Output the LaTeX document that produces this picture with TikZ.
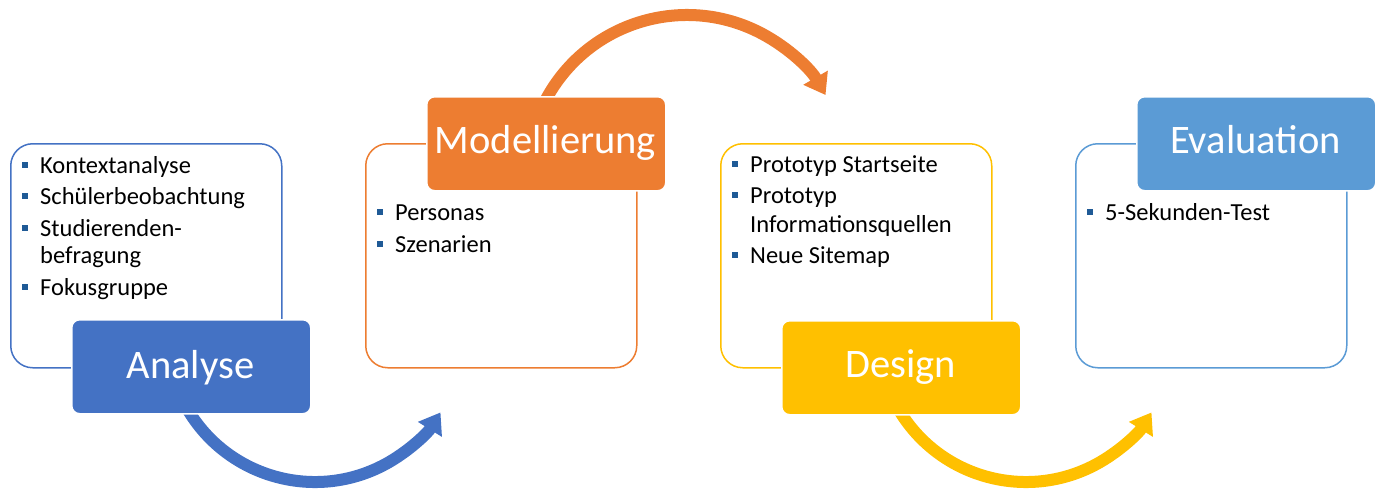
\documentclass[tikz,border=0pt]{standalone}
\usepackage{fontspec}
\setmainfont{Carlito}
\usetikzlibrary{arrows.meta}
\definecolor{cBlue}{HTML}{4472C4}
\definecolor{cOrange}{HTML}{ED7D31}
\definecolor{cYellow}{HTML}{FFC000}
\definecolor{cSky}{HTML}{5B9BD5}
\definecolor{cBullet}{RGB}{31,90,150}
\begin{document}
\begin{tikzpicture}[x=1pt,y=1pt,
  outlinebox/.style={draw=#1, line width=1.5pt, rounded corners=22pt, fill=white,
    minimum width=271pt, minimum height=224pt, anchor=north west, inner sep=0pt},
  titlebox/.style={fill=#1, draw=white, line width=1.5pt, rounded corners=8pt,
    minimum width=239pt, minimum height=94pt, anchor=north west, inner sep=0pt},
  titletext/.style={text=white, font=\fontsize{40.5}{42}\selectfont, anchor=base, inner sep=0pt},
  item/.style={font=\fontsize{24.5}{28}\selectfont, anchor=base west, inner sep=0pt},
  bulletsq/.style={fill=cBullet, minimum size=6pt, inner sep=0pt},
  flow/.style={line width=12pt, draw=#1, -{Triangle[length=20pt,width=27pt]}}
]
\useasboundingbox (0,0) rectangle (1381,-490);

% curved arrows between the phases (drawn first, so they start beneath the boxes)
\coordinate (a1s) at (186.8,-408.0);
\coordinate (a2s) at (545.7,-99.9);
\coordinate (a3s) at (897.8,-408.0);
\draw[flow=cBlue]   (a1s) arc[start angle=210, end angle=328, radius=148];
\draw[flow=cOrange] (a2s) arc[start angle=152, end angle=30,  radius=160];
\draw[flow=cYellow] (a3s) arc[start angle=210, end angle=328, radius=148];

% content frames
\node[outlinebox=cBlue]   (f1) at (10,-143)   {};
\node[outlinebox=cOrange] (f2) at (365,-143)  {};
\node[outlinebox=cYellow] (f3) at (720,-143)  {};
\node[outlinebox=cSky]    (f4) at (1075,-143) {};

% phase title boxes
\node[titlebox=cBlue]   (t1) at (71,-319)  {};
\node[titlebox=cOrange] (t2) at (426,-96)  {};
\node[titlebox=cYellow] (t3) at (781,-320) {};
\node[titlebox=cSky]    (t4) at (1136,-96) {};

\node[titletext] (t1txt) at (190.5,-378) {Analyse};
\node[titletext] (t2txt) at (545.5,-153) {Modellierung};
\node[titletext] (t3txt) at (900.5,-377) {Design};
\node[titletext] (t4txt) at (1255.5,-153) {Evaluation};

% Analyse items
\node[bulletsq] (b11) at (24.5,-164.5) {};
\node[item] (i11) at (40,-173) {Kontextanalyse};
\node[bulletsq] (b12) at (24.5,-195.5) {};
\node[item] (i12) at (40,-204) {Schülerbeobachtung};
\node[bulletsq] (b13) at (24.5,-227.5) {};
\node[item] (i13) at (40,-236) {Studierenden-};
\node[item] (i13b) at (40,-263) {befragung};
\node[bulletsq] (b14) at (24.5,-286.5) {};
\node[item] (i14) at (40,-295) {Fokusgruppe};

% Modellierung items
\node[bulletsq] (b21) at (379.5,-211.5) {};
\node[item] (i21) at (395,-220) {Personas};
\node[bulletsq] (b22) at (379.5,-243.5) {};
\node[item] (i22) at (395,-252) {Szenarien};

% Design items
\node[bulletsq] (b31) at (734.5,-163.5) {};
\node[item] (i31) at (750,-172) {Prototyp Startseite};
\node[bulletsq] (b32) at (734.5,-194.5) {};
\node[item] (i32) at (750,-203) {Prototyp};
\node[item] (i32b) at (750,-232) {Informationsquellen};
\node[bulletsq] (b33) at (734.5,-254.5) {};
\node[item] (i33) at (750,-263) {Neue Sitemap};

% Evaluation items
\node[bulletsq] (b41) at (1089.5,-211.5) {};
\node[item] (i41) at (1105,-220) {5-Sekunden-Test};
\end{tikzpicture}
\end{document}
